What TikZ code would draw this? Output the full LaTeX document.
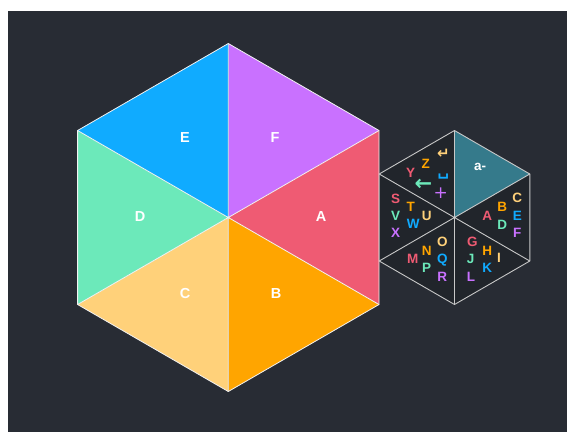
\documentclass[tikz,border=0pt]{standalone}
\usepackage{fontspec}
\setmainfont{Liberation Sans}
\newfontfamily\symfont{DejaVu Sans}
\definecolor{bg}{HTML}{282C34}
\definecolor{hexfill}{HTML}{21252B}
\definecolor{cA}{HTML}{EF5B73}
\definecolor{cB}{HTML}{FFA500}
\definecolor{cC}{HTML}{FFD17A}
\definecolor{cD}{HTML}{6CE9BA}
\definecolor{cE}{HTML}{10ABFF}
\definecolor{cF}{HTML}{C971FF}
\definecolor{teal}{HTML}{357A8B}
\definecolor{edge}{HTML}{C8C8C8}
\tikzset{
  bigedge/.style={draw=white!90!gray, line width=0.8pt, line join=round},
  biglabel/.style={text=white, font=\fontsize{14.5}{16}\selectfont\bfseries, inner sep=0pt},
  smalledge/.style={draw=edge, line width=0.9pt, line join=round},
  key/.style={font=\fontsize{13.5}{15}\selectfont\bfseries, inner sep=0pt},
  symkey/.style={font=\fontsize{#1}{#1}\symfont\bfseries, inner sep=0pt},
}
\begin{document}
\begin{tikzpicture}[x=1pt,y=-1pt]
\useasboundingbox (0,0) rectangle (567,432);
\fill[bg] (8,11) rectangle (567,432);
% big hexagon
\coordinate (O) at (228.3,217.5);
\coordinate (P1) at (228.3,43.5);
\coordinate (P2) at (379,130.5);
\coordinate (P3) at (379,304.5);
\coordinate (P4) at (228.3,391.5);
\coordinate (P5) at (77.6,304.5);
\coordinate (P6) at (77.6,130.5);
\fill[cF] (O) -- (P1) -- (P2) -- cycle;
\fill[cA] (O) -- (P2) -- (P3) -- cycle;
\fill[cB] (O) -- (P3) -- (P4) -- cycle;
\fill[cC] (O) -- (P4) -- (P5) -- cycle;
\fill[cD] (O) -- (P5) -- (P6) -- cycle;
\fill[cE] (O) -- (P6) -- (P1) -- cycle;
\draw[bigedge] (P1) -- (P2) -- (P3) -- (P4) -- (P5) -- (P6) -- cycle;
\draw[bigedge] (P1) -- (P4) (P2) -- (P5) (P3) -- (P6);
\node[biglabel] (lA) at (321,216.5) {A};
\node[biglabel] (lB) at (276,294) {B};
\node[biglabel] (lC) at (185,294) {C};
\node[biglabel] (lD) at (140,216.5) {D};
\node[biglabel] (lE) at (185,137.5) {E};
\node[biglabel] (lF) at (275,137.5) {F};
% small hexagon
\coordinate (Q) at (454.5,217.5);
\coordinate (Q1) at (454.5,130.5);
\coordinate (Q2) at (529.8,174);
\coordinate (Q3) at (529.8,261);
\coordinate (Q4) at (454.5,304.5);
\coordinate (Q5) at (379.2,261);
\coordinate (Q6) at (379.2,174);
\fill[hexfill] (Q1) -- (Q2) -- (Q3) -- (Q4) -- (Q5) -- (Q6) -- cycle;
\fill[teal] (Q) -- (Q1) -- (Q2) -- cycle;
\draw[smalledge] (Q1) -- (Q2) -- (Q3) -- (Q4) -- (Q5) -- (Q6) -- cycle;
\draw[smalledge] (Q1) -- (Q4) (Q2) -- (Q5) (Q3) -- (Q6);
\node[key, text=white] (sa) at (480,167) {a-};
% right triangle
\node[key, text=cA] (kA) at (487.3,215.7) {A};
\node[key, text=cB] (kB) at (502.3,206.5) {B};
\node[key, text=cC] (kC) at (517.3,198.3) {C};
\node[key, text=cD] (kD) at (502.3,224.5) {D};
\node[key, text=cE] (kE) at (517.3,215.7) {E};
\node[key, text=cF] (kF) at (517.3,233) {F};
% lower right
\node[key, text=cA] (kG) at (472.3,241.7) {G};
\node[key, text=cB] (kH) at (487.3,250.7) {H};
\node[key, text=cC] (kI) at (499,258.3) {I};
\node[key, text=cD] (kJ) at (470.7,259) {J};
\node[key, text=cE] (kK) at (487.3,268.3) {K};
\node[key, text=cF] (kL) at (471,276.7) {L};
% lower left
\node[key, text=cA] (kM) at (412.7,259.3) {M};
\node[key, text=cB] (kN) at (426.7,251) {N};
\node[key, text=cC] (kO) at (442.3,241.7) {O};
\node[key, text=cD] (kP) at (426.7,268.3) {P};
\node[key, text=cE] (kQ) at (442.3,259.7) {Q};
\node[key, text=cF] (kR) at (442.3,277.3) {R};
% left
\node[key, text=cA] (kS) at (395.7,199) {S};
\node[key, text=cB] (kT) at (410.7,206.7) {T};
\node[key, text=cC] (kU) at (426.7,215.7) {U};
\node[key, text=cD] (kV) at (395.7,215.7) {V};
\node[key, text=cE] (kW) at (413.3,224) {W};
\node[key, text=cF] (kX) at (395.7,233.3) {X};
% upper left
\node[key, text=cA] (kY) at (410.7,172.7) {Y};
\node[key, text=cB] (kZ) at (425.7,164) {Z};
\node[symkey=15, text=cC] (kret) at (443.3,153.8) {↵};
\node[symkey=21, text=cD] (kleft) at (423.3,185) {←};
\node[symkey=16, text=cE] (kspace) at (443.3,176.5) {␣};
\node[symkey=17, text=cF, font=\fontsize{17}{17}\symfont] (kplus) at (440.7,193.5) {+};
\end{tikzpicture}
\end{document}
